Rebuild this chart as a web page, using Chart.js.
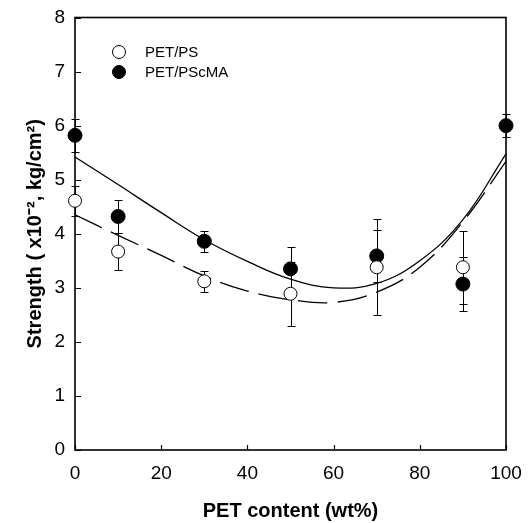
<!DOCTYPE html>
<html>
<head>
<meta charset="utf-8">
<script src="https://cdn.jsdelivr.net/npm/chart.js@4.4.1/dist/chart.umd.min.js"></script>
<style>
  html, body { margin: 0; padding: 0; background: #fff; }
  #wrap { width: 530px; height: 523px; }
</style>
</head>
<body>
<div id="wrap"><canvas id="chart" width="530" height="523"></canvas></div>
<script>
// measured points (PET content in wt%, strength x10^-2 kg/cm2)
const psContent = [0, 10, 30, 50, 70, 90];
const psStrength = [4.61, 3.67, 3.12, 2.89, 3.38, 3.38];
const psError = [0.28, 0.34, 0.19, 0.59, 0.89, 0.68];

const scmaContent = [0, 10, 30, 50, 70, 90, 100];
const scmaStrength = [5.82, 4.32, 3.86, 3.35, 3.59, 3.07, 6.0];
const scmaError = [0.31, 0.31, 0.2, 0.41, 0.48, 0.5, 0.21];

// fitted curves
const fitContent = [0, 10, 20, 30, 40, 50, 60, 70, 80, 90, 100];
const scmaFit = [5.42, 4.91, 4.39, 3.89, 3.49, 3.16, 3.00, 3.08, 3.50, 4.26, 5.48];
const psFit = [4.35, 3.97, 3.60, 3.22, 2.94, 2.78, 2.73, 2.92, 3.38, 4.22, 5.34];

const xTicks = [0, 20, 40, 60, 80, 100];
const yTicks = [0, 1, 2, 3, 4, 5, 6, 7, 8];

const FONT = '"Liberation Sans", Arial, Helvetica, sans-serif';

const toPoints = (xs, ys) => xs.map((v, i) => ({ x: v, y: ys[i] }));

const errorSets = [
    { xs: psContent, ys: psStrength, err: psError },
    { xs: scmaContent, ys: scmaStrength, err: scmaError }
];

const legendItems = [
    { label: "PET/PS", fill: "#fff" },
    { label: "PET/PScMA", fill: "#000" }
];

// frame, inward ticks and error bars are drawn under the markers
const framePlugin = {
    id: "framePlugin",
    beforeDatasetsDraw(chart) {
        const { ctx, chartArea: a, scales: { x, y } } = chart;
        ctx.save();
        ctx.strokeStyle = "#000";

        // inward tick marks
        ctx.lineWidth = 1.2;
        ctx.beginPath();
        yTicks.forEach(v => {
            const py = Math.round(y.getPixelForValue(v)) + 0.5;
            ctx.moveTo(a.left, py);
            ctx.lineTo(a.left + 6, py);
        });
        xTicks.forEach(v => {
            const px = Math.round(x.getPixelForValue(v)) + 0.5;
            ctx.moveTo(px, a.bottom);
            ctx.lineTo(px, a.bottom - 5);
        });
        ctx.stroke();

        // box around the plot
        ctx.lineWidth = 1.6;
        ctx.strokeRect(a.left, a.top, a.right - a.left, a.bottom - a.top);

        // error bars
        ctx.lineWidth = 1;
        errorSets.forEach(s => {
            s.xs.forEach((v, i) => {
                const px = Math.round(x.getPixelForValue(v)) + 0.5;
                const top = Math.round(y.getPixelForValue(s.ys[i] + s.err[i])) + 0.5;
                const bot = Math.round(y.getPixelForValue(s.ys[i] - s.err[i])) + 0.5;
                ctx.beginPath();
                ctx.moveTo(px, top);
                ctx.lineTo(px, bot);
                ctx.moveTo(px - 4, top);
                ctx.lineTo(px + 4, top);
                ctx.moveTo(px - 4, bot);
                ctx.lineTo(px + 4, bot);
                ctx.stroke();
            });
        });
        ctx.restore();
    },
    afterDraw(chart) {
        const { ctx } = chart;
        ctx.save();
        ctx.font = "15px " + FONT;
        ctx.textBaseline = "middle";
        legendItems.forEach((item, i) => {
            const cy = 52 + i * 20;
            ctx.beginPath();
            ctx.arc(119, cy, 6.5, 0, Math.PI * 2);
            ctx.fillStyle = item.fill;
            ctx.fill();
            ctx.lineWidth = 1;
            ctx.strokeStyle = "#000";
            ctx.stroke();
            ctx.fillStyle = "#000";
            ctx.fillText(item.label, 145, cy + 1);
        });
        ctx.restore();
    }
};

new Chart(document.getElementById("chart").getContext("2d"), {
    type: "scatter",
    data: {
        datasets: [
            {
                label: "PET/PS",
                data: toPoints(psContent, psStrength),
                pointRadius: 6.5,
                pointBackgroundColor: "#fff",
                pointBorderColor: "#000",
                pointBorderWidth: 1,
                showLine: false,
                clip: false,
                order: 0
            },
            {
                label: "PET/PScMA",
                data: toPoints(scmaContent, scmaStrength),
                pointRadius: 7,
                pointBackgroundColor: "#000",
                pointBorderColor: "#000",
                pointBorderWidth: 1,
                showLine: false,
                clip: false,
                order: 0
            },
            {
                label: "PET/PScMA fit",
                data: toPoints(fitContent, scmaFit),
                showLine: true,
                borderColor: "#000",
                borderWidth: 1.3,
                pointRadius: 0,
                tension: 0.4,
                order: 1
            },
            {
                label: "PET/PS fit",
                data: toPoints(fitContent, psFit),
                showLine: true,
                borderColor: "#000",
                borderWidth: 1.3,
                borderDash: [30, 10],
                pointRadius: 0,
                tension: 0.4,
                order: 1
            }
        ]
    },
    options: {
        responsive: false,
        animation: false,
        layout: { padding: { left: 0, right: 24, top: 17.5, bottom: 0 } },
        plugins: {
            legend: { display: false },
            tooltip: { enabled: false }
        },
        scales: {
            x: {
                type: "linear",
                min: 0,
                max: 100,
                afterBuildTicks: (scale) => { scale.ticks = xTicks.map(v => ({ value: v })); },
                afterFit: (scale) => {
                    scale.height = 73;
                    scale.paddingLeft = 0;
                    scale.paddingRight = 0;
                },
                grid: { display: false, drawTicks: false },
                border: { display: false },
                ticks: {
                    padding: 12,
                    color: "#000",
                    font: { family: FONT, size: 19 }
                },
                title: {
                    display: true,
                    text: "PET content (wt%)",
                    color: "#000",
                    font: { family: FONT, size: 20, weight: "bold" },
                    padding: { top: 0, bottom: 0 }
                }
            },
            y: {
                type: "linear",
                min: 0,
                max: 8,
                afterBuildTicks: (scale) => { scale.ticks = yTicks.map(v => ({ value: v })); },
                afterFit: (scale) => {
                    scale.width = 75;
                    scale.paddingTop = 0;
                    scale.paddingBottom = 0;
                },
                grid: { display: false, drawTicks: false },
                border: { display: false },
                ticks: {
                    padding: 10,
                    color: "#000",
                    font: { family: FONT, size: 19 }
                },
                title: {
                    display: true,
                    text: "Strength ( x10\u207B\u00B2, kg/cm\u00B2)",
                    color: "#000",
                    font: { family: FONT, size: 20, weight: "bold" },
                    padding: { top: 23, bottom: 0 }
                }
            }
        }
    },
    plugins: [framePlugin]
});
</script>
</body>
</html>
